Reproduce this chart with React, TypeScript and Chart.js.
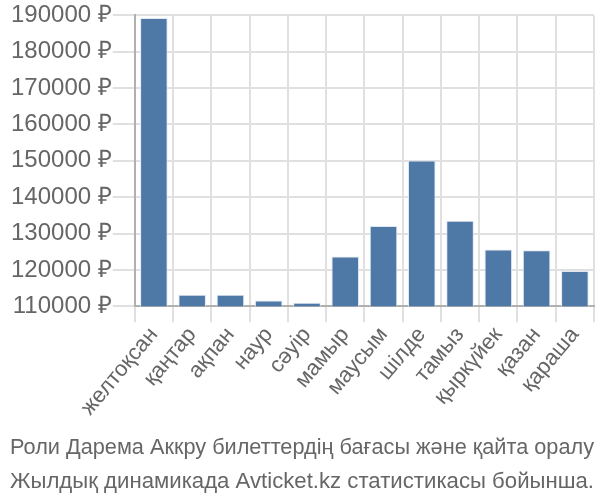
import React, { useEffect, useRef } from "react";
import { Chart, registerables } from "chart.js";

Chart.register(...registerables);

const months = [
  "желтоқсан", "қаңтар", "ақпан", "наур", "сәуір", "мамыр",
  "маусым", "шілде", "тамыз", "қыркүйек", "қазан", "қараша",
];
const prices = [
  189300, 113200, 113200, 111600, 111000, 123700,
  132100, 150100, 133500, 125600, 125400, 119700,
];
const captionLines = [
  "Роли Дарема Аккру билеттердің бағасы және қайта оралу",
  "Жылдық динамикада Avticket.kz статистикасы бойынша.",
];
const yMin = 110000;
const yMax = 190000;
const yStep = 10000;

export default function App() {
  const ref = useRef<HTMLCanvasElement | null>(null);
  useEffect(() => {
    document.body.style.margin = "0";
    if (!ref.current) return;
    const chart = new Chart(ref.current, {
      type: "bar",
      data: {
        labels: months,
        datasets: [
          {
            data: prices,
            backgroundColor: "#4e79a7",
            borderColor: "#dfe6ef",
            borderWidth: 1,
            barPercentage: 0.72,
            categoryPercentage: 1,
          },
        ],
      },
      options: {
        animation: false,
        responsive: false,
        maintainAspectRatio: false,
        layout: { padding: { left: 10, right: 6, top: 4, bottom: 1 } },
        plugins: {
          legend: { display: false },
          tooltip: { enabled: false },
          title: {
            display: true,
            position: "bottom",
            text: captionLines,
            color: "#666",
            font: { family: "Liberation Sans", size: 22.5, weight: "normal", lineHeight: 1.52 },
            padding: { top: 10, bottom: 0 },
          },
        },
        scales: {
          x: {
            grid: { color: "#e0e0e0", lineWidth: 2, tickLength: 16, offset: true },
            border: { color: "#b0b0b0", width: 2 },
            ticks: {
              color: "#666",
              font: { family: "Liberation Sans", size: 22 },
              minRotation: 50,
              maxRotation: 50,
              autoSkip: false,
              padding: 0,
            },
          },
          y: {
            min: yMin,
            max: yMax,
            grid: { color: "#e0e0e0", lineWidth: 2, tickLength: 22 },
            border: { color: "#b0b0b0", width: 2 },
            ticks: {
              stepSize: yStep,
              color: "#666",
              font: { family: "Liberation Sans", size: 24 },
              padding: 1,
              callback: (v: any) => `${v} ₽`,
            },
          },
        },
      },
    });
    return () => chart.destroy();
  }, []);
  return (
    <div style={{ width: 600, height: 500 }}>
      <canvas ref={ref} width={600} height={500} style={{ display: "block" }} />
    </div>
  );
}
